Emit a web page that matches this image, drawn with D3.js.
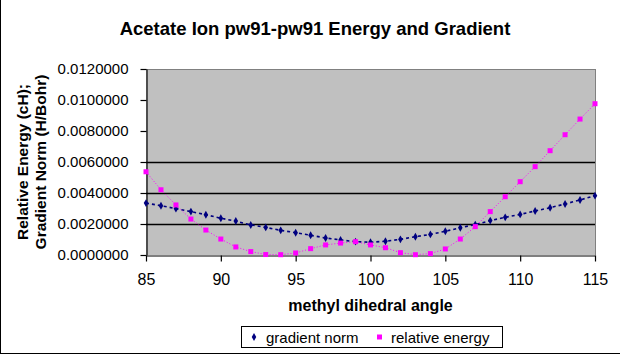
<!DOCTYPE html>
<html><head><meta charset="utf-8">
<script src="https://cdn.jsdelivr.net/npm/d3@7"></script>
<style>body{margin:0;background:#fff}svg{display:block;font-family:Arial,"Liberation Sans",sans-serif}</style>
</head><body><svg id="c" width="620" height="355"></svg>
<script>
const angles = [85,86,87,88,89,90,91,92,93,94,95,96,97,98,99,100,101,102,103,104,105,106,107,108,109,110,111,112,113,114,115];
const gradientNorm = [0.00335,0.00318,0.00299,0.00280,0.00260,0.00237,0.00219,0.00194,0.00178,0.00159,0.00144,0.00127,0.00110,0.00097,0.00086,0.00082,0.00089,0.00101,0.00118,0.00133,0.00153,0.00176,0.00196,0.00222,0.00243,0.00262,0.00284,0.00305,0.00329,0.00355,0.00383];
const relativeEnergy = [0.00537,0.00421,0.00323,0.00232,0.00161,0.00103,0.00052,0.00022,0.00003,0.00002,0.00013,0.00041,0.00065,0.00077,0.00086,0.00065,0.00047,0.00015,0.00002,0.00009,0.00039,0.00103,0.00183,0.00280,0.00376,0.00473,0.00570,0.00673,0.00776,0.00877,0.00976];
const xTicks = [85,90,95,100,105,110,115];
const yTicks = [0,0.002,0.004,0.006,0.008,0.010,0.012];
const gridTicks = [0.002,0.004,0.006];
const seriesNames = ["gradient norm","relative energy"];

const svg = d3.select("#c");
const L=146,R=595,T=69,B=255;
const x = d3.scaleLinear().domain([85,115]).range([L,R]);
const y = d3.scaleLinear().domain([0,0.012]).range([B,T]);

// outer frame (left & bottom)
svg.append("line").attr("x1",0.5).attr("x2",0.5).attr("y1",0).attr("y2",354).attr("stroke","#000");
svg.append("line").attr("x1",0).attr("x2",620).attr("y1",353.5).attr("y2",353.5).attr("stroke","#000");

svg.append("rect").attr("x",L).attr("y",T).attr("width",R-L).attr("height",B-T).attr("fill","#c0c0c0");
svg.append("line").attr("x1",L).attr("x2",R).attr("y1",T+0.5).attr("y2",T+0.5).attr("stroke","#808080");
svg.append("line").attr("x1",R+0.5).attr("x2",R+0.5).attr("y1",T).attr("y2",B).attr("stroke","#808080");

svg.append("g").selectAll("line").data(gridTicks).join("line")
  .attr("x1",L).attr("x2",R).attr("y1",d=>Math.round(y(d))+0.5).attr("y2",d=>Math.round(y(d))+0.5)
  .attr("stroke","#000").attr("stroke-width",1.3);

const yAxis = svg.append("g").attr("transform",`translate(${L+0.5},0)`)
  .call(d3.axisLeft(y).tickValues(yTicks).tickSize(6).tickSizeOuter(0).tickPadding(12).tickFormat(d3.format(".7f")));
const xAxis = svg.append("g").attr("transform",`translate(0,${B+0.5})`)
  .call(d3.axisBottom(x).tickValues(xTicks).tickSize(6).tickSizeOuter(0).tickPadding(12).tickFormat(d3.format("d")));
yAxis.selectAll("text").attr("font-size",15);
xAxis.selectAll("text").attr("font-size",16);
[yAxis,xAxis].forEach(a=>{
  a.selectAll("text").attr("fill","#000").attr("font-family","Arial, 'Liberation Sans', sans-serif");
  a.selectAll("line,path").attr("stroke","#000").attr("stroke-width",1.2);
});

const lineG = d3.line().x((d,i)=>x(angles[i])).y(d=>y(d));
svg.append("path").datum(gradientNorm).attr("d",lineG).attr("fill","none")
  .attr("stroke","#000080").attr("stroke-width",1.6).attr("stroke-dasharray","3,3");
svg.append("path").datum(relativeEnergy).attr("d",lineG).attr("fill","none")
  .attr("stroke","#ff00ff").attr("stroke-width",1).attr("stroke-dasharray","1,2");

const diamond = d3.symbol().type(d3.symbolDiamond).size(18);
svg.append("g").selectAll("path").data(gradientNorm).join("path")
  .attr("d",diamond).attr("transform",(d,i)=>`translate(${x(angles[i])},${y(d)})`).attr("fill","#000080");
svg.append("g").selectAll("rect").data(relativeEnergy).join("rect")
  .attr("x",(d,i)=>x(angles[i])-2.5).attr("y",d=>y(d)-2.5).attr("width",5).attr("height",5).attr("fill","#ff00ff");

svg.append("text").attr("x",315).attr("y",35).attr("text-anchor","middle").attr("font-weight","bold").attr("font-size",18.5)
  .text("Acetate Ion pw91-pw91 Energy and Gradient");
svg.append("text").attr("x",(L+R)/2).attr("y",311).attr("text-anchor","middle").attr("font-weight","bold").attr("font-size",16)
  .text("methyl dihedral angle");
const yt = svg.append("text").attr("transform",`translate(0,${(T+B)/2}) rotate(-90)`).attr("text-anchor","middle")
  .attr("font-weight","bold").attr("font-size",15.5);
yt.append("tspan").attr("x",0).attr("y",28).text("Relative Energy (cH);");
yt.append("tspan").attr("x",0).attr("y",46).text("Gradient Norm (H/Bohr)");

svg.append("rect").attr("x",241.5).attr("y",326.5).attr("width",261).attr("height",21).attr("fill","#fff").attr("stroke","#000");
svg.append("path").attr("d",diamond).attr("transform","translate(254,337)").attr("fill","#000080");
svg.append("text").attr("x",266).attr("y",343).attr("font-size",15).text(seriesNames[0]);
svg.append("rect").attr("x",377).attr("y",334.5).attr("width",5).attr("height",5).attr("fill","#ff00ff");
svg.append("text").attr("x",391).attr("y",343).attr("font-size",15).text(seriesNames[1]);
</script></body></html>
